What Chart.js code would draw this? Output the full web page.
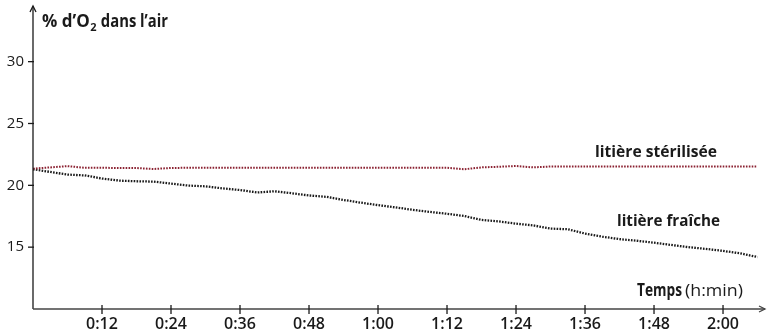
<!DOCTYPE html>
<html>
<head>
<meta charset="utf-8">
<script src="https://cdn.jsdelivr.net/npm/chart.js@4/dist/chart.umd.min.js"></script>
<style>
  html, body { margin: 0; padding: 0; background: #fff; }
  #wrap { width: 768px; height: 335px; }
</style>
</head>
<body>
<div id="wrap"><canvas id="o2Chart"></canvas></div>
<script>
// temps en minutes (mesures lues toutes les 3 min)
const minutes = [0, 3, 6, 9, 12, 15, 18, 21, 24, 27, 30, 33, 36, 39, 42, 45, 48, 51, 54, 57, 60,
  63, 66, 69, 72, 75, 78, 81, 84, 87, 90, 93, 96, 99, 102, 105, 108, 111, 114, 117, 120, 123, 126];

// % d'O2 - litière stérilisée
const sterilisee = [21.35, 21.45, 21.55, 21.42, 21.42, 21.4, 21.4, 21.32, 21.4, 21.42, 21.42,
  21.42, 21.42, 21.42, 21.42, 21.42, 21.42, 21.42, 21.42, 21.42, 21.42, 21.42, 21.42, 21.42,
  21.42, 21.3, 21.45, 21.5, 21.56, 21.45, 21.52, 21.52, 21.52, 21.52, 21.52, 21.52, 21.52,
  21.52, 21.52, 21.52, 21.52, 21.52, 21.52];

// % d'O2 - litière fraîche
const fraiche = [21.3, 21.08, 20.87, 20.8, 20.55, 20.38, 20.33, 20.3, 20.14, 19.98, 19.92,
  19.75, 19.62, 19.42, 19.52, 19.36, 19.18, 19.07, 18.82, 18.6, 18.4, 18.22, 18.02, 17.85,
  17.7, 17.52, 17.2, 17.08, 16.9, 16.76, 16.5, 16.45, 16.1, 15.85, 15.65, 15.52, 15.36,
  15.18, 15.0, 14.86, 14.7, 14.5, 14.2];

// graduations
const xTickValues = [12, 24, 36, 48, 60, 72, 84, 96, 108, 120];
const xTickLabels = ['0:12', '0:24', '0:36', '0:48', '1:00', '1:12', '1:24', '1:36', '1:48', '2:00'];
const yTickValues = [15, 20, 25, 30];

const ink = '#1a1a1a';
const redInk = '#8b2232';

// axes fléchés + traits de graduation + textes
const axisArrows = {
  id: 'axisArrows',
  afterDraw(chart) {
    const { ctx, chartArea, scales } = chart;
    const x0 = chartArea.left, y0 = chartArea.bottom;
    ctx.save();
    ctx.strokeStyle = ink;
    ctx.fillStyle = ink;
    ctx.lineWidth = 1.3;

    // axe vertical
    ctx.beginPath();
    ctx.moveTo(x0, y0);
    ctx.lineTo(x0, chartArea.top);
    ctx.stroke();
    ctx.beginPath();
    ctx.moveTo(x0 - 3, chartArea.top + 6);
    ctx.lineTo(x0, chartArea.top);
    ctx.lineTo(x0 + 3, chartArea.top + 6);
    ctx.stroke();

    // axe horizontal
    ctx.strokeStyle = '#444';
    ctx.beginPath();
    ctx.moveTo(x0, y0);
    ctx.lineTo(chartArea.right, y0);
    ctx.stroke();
    ctx.beginPath();
    ctx.moveTo(chartArea.right - 6, y0 - 3);
    ctx.lineTo(chartArea.right, y0);
    ctx.lineTo(chartArea.right - 6, y0 + 3);
    ctx.stroke();

    // graduations
    ctx.strokeStyle = ink;
    scales.x.ticks.forEach(t => {
      const px = scales.x.getPixelForValue(t.value);
      ctx.beginPath();
      ctx.moveTo(px, y0 - 4);
      ctx.lineTo(px, y0 + 5);
      ctx.stroke();
    });
    scales.y.ticks.forEach(t => {
      const py = scales.y.getPixelForValue(t.value);
      ctx.beginPath();
      ctx.moveTo(x0 - 5, py);
      ctx.lineTo(x0 + 1, py);
      ctx.stroke();
    });

    // titre de l'axe vertical
    ctx.fillStyle = ink;
    ctx.textBaseline = 'alphabetic';
    ctx.textAlign = 'left';
    const bold = 'bold 16px "Open Sans", sans-serif';
    ctx.font = 'bold 17px "Open Sans", sans-serif';
    let tx = 42;
    const part1 = "% d\u2019O";
    ctx.fillText(part1, tx, 27);
    tx += ctx.measureText(part1).width;
    ctx.font = 'bold 11px "Open Sans", sans-serif';
    ctx.fillText('2', tx + 0.5, 31);
    tx += ctx.measureText('2').width + 1;
    ctx.font = 'bold 17px "Open Sans", sans-serif';
    const part2 = " dans l\u2019air";
    const w2 = ctx.measureText(part2).width;
    ctx.save();
    ctx.translate(tx, 27);
    ctx.scale((168 - tx) / w2, 1);
    ctx.fillText(part2, 0, 0);
    ctx.restore();

    // étiquettes des courbes
    const fitText = (text, font, x, y, width) => {
      ctx.font = font;
      const w = ctx.measureText(text).width;
      ctx.save();
      ctx.translate(x, y);
      ctx.scale(width / w, 1);
      ctx.fillText(text, 0, 0);
      ctx.restore();
    };
    fitText('litière stérilisée', bold, 595, 157, 122);
    fitText('litière fraîche', bold, 617, 226, 103);

    // titre de l'axe horizontal
    fitText('Temps', 'bold 17px "Open Sans", sans-serif', 637, 296, 45);
    fitText('(h:min)', '17px "Open Sans", sans-serif', 685, 296, 58);

    ctx.restore();
  }
};

const dotted = (color, width) => ({
  borderColor: color,
  borderWidth: width,
  borderDash: [1.6, 1.3],
  borderCapStyle: 'butt',
  pointRadius: 0,
  tension: 0,
  fill: false
});

new Chart(document.getElementById('o2Chart'), {
  type: 'line',
  data: {
    datasets: [
      { label: 'litière stérilisée', data: minutes.map((m, i) => ({ x: m, y: sterilisee[i] })), ...dotted(redInk, 2) },
      { label: 'litière fraîche', data: minutes.map((m, i) => ({ x: m, y: fraiche[i] })), ...dotted(ink, 2.3) }
    ]
  },
  options: {
    responsive: true,
    maintainAspectRatio: false,
    animation: false,
    layout: { padding: { top: 6, right: 3, left: 0, bottom: 0 } },
    plugins: {
      legend: { display: false },
      tooltip: { enabled: false }
    },
    scales: {
      x: {
        type: 'linear',
        min: 0,
        max: 127.3,
        grid: { display: false, drawTicks: false },
        border: { display: false },
        afterFit: (scale) => {
          scale.height = 26;
          scale.paddingLeft = 0;
          scale.paddingRight = 0;
        },
        afterBuildTicks: (scale) => { scale.ticks = xTickValues.map(v => ({ value: v })); },
        ticks: {
          padding: 6,
          color: ink,
          font: { family: '"Open Sans", sans-serif', size: 16, weight: '600' },
          callback: (v) => xTickLabels[xTickValues.indexOf(v)]
        }
      },
      y: {
        min: 10,
        max: 34.5,
        grid: { display: false, drawTicks: false },
        border: { display: false },
        afterFit: (scale) => {
          scale.width = 33;
          scale.paddingTop = 0;
          scale.paddingBottom = 0;
        },
        afterBuildTicks: (scale) => { scale.ticks = yTickValues.map(v => ({ value: v })); },
        ticks: {
          padding: 9,
          color: ink,
          font: { family: '"Open Sans", sans-serif', size: 15 }
        }
      }
    }
  },
  plugins: [axisArrows]
});
</script>
</body>
</html>
